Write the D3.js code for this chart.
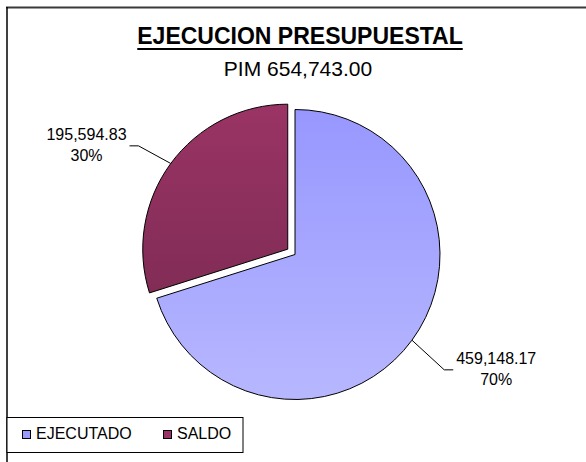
<!DOCTYPE html>
<html>
<head>
<meta charset="utf-8">
<script src="https://cdn.jsdelivr.net/npm/d3@7"></script>
<style>
  body { margin: 0; background: #fff; }
  text { font-family: Arial, "Liberation Sans", sans-serif; fill: #000; }
</style>
</head>
<body>
<div id="chart"></div>
<script>
// chart data
var titleText = "EJECUCION PRESUPUESTAL";
var subtitleText = "PIM 654,743.00";
var categories = ["EJECUTADO", "SALDO"];
var values = [459148.17, 195594.83];

var width = 586,
    height = 462;

var cx = 295, cy = 254.5,
    radius = 145,
    explode = 9;   // SALDO slice is pulled out

var svg = d3.select("#chart").append("svg").attr("width", width).attr("height", height);

// gradients, top to bottom like the excel fill (coords local to the pie group)
var grads = [["#9797ff", "#b7b7ff"], ["#9a3465", "#74284e"]];
var defs = svg.append("defs");
grads.forEach(function(g, i) {
    var lg = defs.append("linearGradient").attr("id", "grad" + i)
        .attr("gradientUnits", "userSpaceOnUse")
        .attr("x1", 0).attr("x2", 0).attr("y1", -radius).attr("y2", radius);
    lg.append("stop").attr("offset", "0%").attr("stop-color", g[0]);
    lg.append("stop").attr("offset", "100%").attr("stop-color", g[1]);
});

// frame
svg.append("line").attr("x1", 6).attr("x2", width).attr("y1", 7.5).attr("y2", 7.5)
    .attr("stroke", "#3a3a3a").attr("stroke-width", 2);
svg.append("line").attr("x1", 7).attr("x2", 7).attr("y1", 7).attr("y2", height)
    .attr("stroke", "#000").attr("stroke-width", 1.5);

// title + underline
var title = svg.append("text").attr("x", 300).attr("y", 44).attr("text-anchor", "middle")
    .style("font-size", "23px").style("font-weight", "bold").text(titleText);
var tw = title.node().getComputedTextLength();
svg.append("line").attr("x1", 300 - tw / 2).attr("x2", 300 + tw / 2).attr("y1", 49).attr("y2", 49)
    .attr("stroke", "#000").attr("stroke-width", 2.2);
svg.append("text").attr("x", 298).attr("y", 76).attr("text-anchor", "middle")
    .style("font-size", "21px").text(subtitleText);

// pie
var pie = d3.pie().sort(null).value(function(d) { return d; });
var data_ready = pie(values);
var total = d3.sum(values);

var arcGen = d3.arc().innerRadius(0).outerRadius(radius);
var outerArc = d3.arc().innerRadius(radius).outerRadius(radius);

function offset(d) {
    if (d.index !== 1) return [0, 0];
    var a = (d.startAngle + d.endAngle) / 2;
    return [Math.sin(a) * explode, -Math.cos(a) * explode];
}

var g = svg.append("g").attr("transform", "translate(" + cx + "," + cy + ")");

g.selectAll("path.slice").data(data_ready).enter().append("path")
    .attr("class", "slice")
    .attr("transform", function(d) { return "translate(" + offset(d) + ")"; })
    .attr("d", arcGen)
    .attr("fill", function(d, i) { return "url(#grad" + i + ")"; })
    .attr("stroke", "#000").attr("stroke-width", 1);

// leader lines + labels
var fmt = d3.format(",.2f");
var leg = 40, drop = 6, tail = 9;
data_ready.forEach(function(d) {
    var a = (d.startAngle + d.endAngle) / 2;
    var off = offset(d);
    var p0 = outerArc.centroid(d);
    p0 = [p0[0] + off[0], p0[1] + off[1]];
    var p1 = [p0[0] + Math.sin(a) * leg, p0[1] - Math.cos(a) * leg + drop];
    var side = Math.sin(a) > 0 ? 1 : -1;
    var p2 = [p1[0] + side * tail, p1[1]];
    g.append("polyline").attr("points", [p0, p1, p2].join(" "))
        .attr("fill", "none").attr("stroke", "#000").attr("stroke-width", 1);
    var tx = p2[0] + side * 43;
    var t = g.append("text").attr("text-anchor", "middle").style("font-size", "16px");
    t.append("tspan").attr("x", tx).attr("y", p2[1] - 6).text(fmt(d.data));
    t.append("tspan").attr("x", tx).attr("y", p2[1] + 15).text(Math.round(d.data / total * 100) + "%");
});

// legend
var legend = svg.append("g");
legend.append("rect").attr("x", 7).attr("y", 417.5).attr("width", 236).attr("height", 35)
    .attr("fill", "#fff").attr("stroke", "#000").attr("stroke-width", 1);
var legX = [22, 163];
var swatch = ["#9999ff", "#993366"];
categories.forEach(function(c, i) {
    legend.append("rect").attr("x", legX[i] + 0.5).attr("y", 430.5).attr("width", 8).attr("height", 8)
        .attr("fill", swatch[i]).attr("stroke", "#000").attr("stroke-width", 1);
    legend.append("text").attr("x", legX[i] + 14).attr("y", 439).style("font-size", "16px").text(c);
});
</script>
</body>
</html>
